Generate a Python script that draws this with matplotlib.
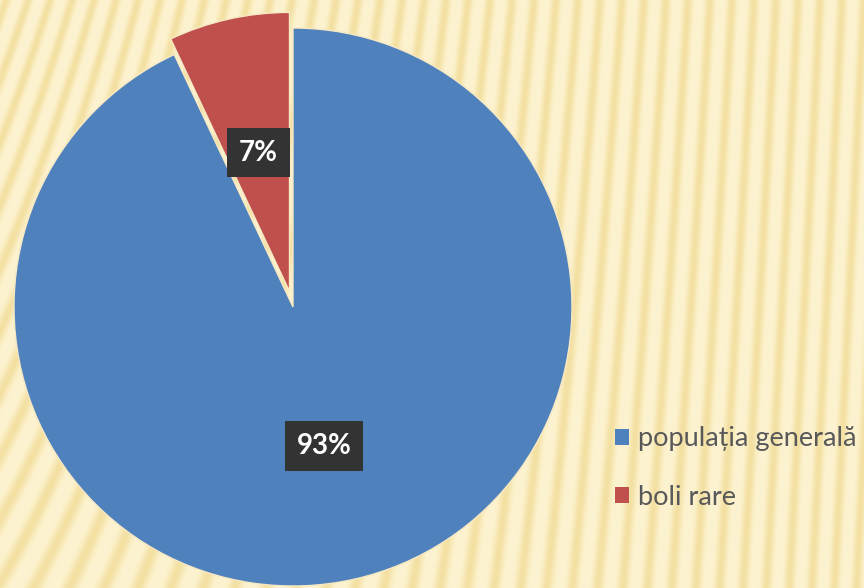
import numpy as np
import matplotlib
matplotlib.use("Agg")
import matplotlib.pyplot as plt
from matplotlib.patches import Patch

labels = ["populația generală", "boli rare"]
values = [93, 7]
pct_labels = ["93%", "7%"]
colors = ["#4F81BD", "#C0504D"]

W, H = 864, 588
fig = plt.figure(figsize=(W / 100, H / 100), dpi=100)
ax = fig.add_axes([0, 0, 1, 1])

# background stripes
yy, xx = np.mgrid[0:H, 0:W].astype(float)
k = 0.05 + 0.30 * (1 - xx / W) ** 2
phase = (xx + k * yy) / 22.0
s = 0.5 + 0.5 * np.sin(2 * np.pi * phase)
s = s ** 2
light = np.array([253, 243, 208]) / 255
dark = np.array([243, 224, 162]) / 255
img = light[None, None, :] * (1 - s[..., None]) + dark[None, None, :] * s[..., None]
ax.imshow(img, extent=(0, W, 0, H), origin="upper", zorder=0, aspect="auto")

cx, cy, R = 293, H - 307, 279
wedges, texts = ax.pie(values, colors=colors, startangle=90, counterclock=False,
                       explode=[0, 16], center=(cx, cy), radius=R,
                       wedgeprops=dict(edgecolor="#F6E9C4", linewidth=1.0),
                       labels=pct_labels, labeldistance=0.51,
                       textprops=dict(color="white", fontsize=20, fontweight="bold",
                                      family=["Lato", "DejaVu Sans"],
                                      ha="center", va="center"))
for w in wedges:
    w.set_zorder(2)
for t in texts:
    t.set_zorder(3)
    t.set_bbox(dict(boxstyle="square,pad=0.42", fc="#333333", ec="none"))

ax.set_xlim(0, W)
ax.set_ylim(0, H)
ax.set_aspect("auto")
ax.axis("off")

handles = [Patch(facecolor=c, edgecolor="none") for c in colors]
leg = ax.legend(handles, labels, loc="upper left", bbox_to_anchor=(604 / W, 1 - 415.5 / H),
                borderaxespad=0, frameon=False, handlelength=0.52, handleheight=0.52,
                handletextpad=0.33, labelspacing=1.24,
                prop=dict(family=["Lato", "DejaVu Sans"], size=19.5))
for t in leg.get_texts():
    t.set_color("#595959")

fig.savefig("out.png", dpi=100)
